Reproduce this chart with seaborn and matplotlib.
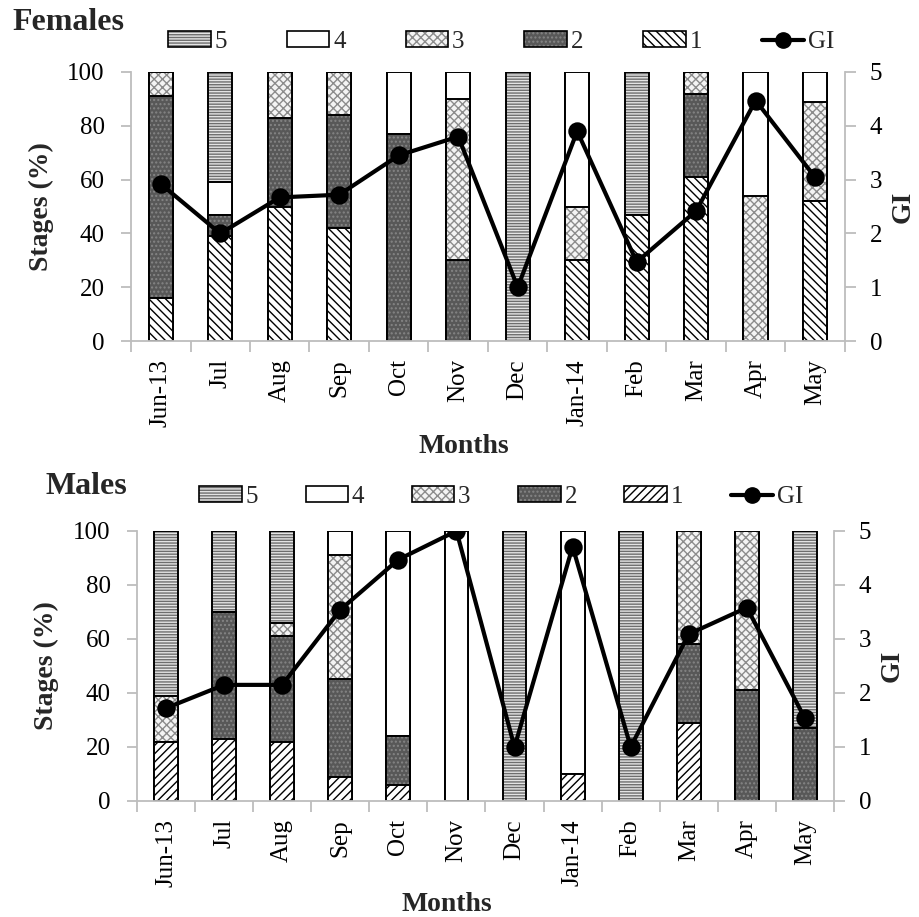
import matplotlib
matplotlib.use('Agg')
import matplotlib.pyplot as plt
from matplotlib.patches import Patch
from matplotlib.lines import Line2D
import numpy as np
import seaborn as sns

sns.set_theme(style='white')
plt.rcParams['font.family'] = ['Liberation Serif', 'DejaVu Serif']
plt.rcParams['hatch.linewidth'] = 1.0

months = ['Jun-13', 'Jul', 'Aug', 'Sep', 'Oct', 'Nov', 'Dec',
          'Jan-14', 'Feb', 'Mar', 'Apr', 'May']
stage_names = ['1', '2', '3', '4', '5']

# females, % of each maturity stage per month
f_s1 = [16, 39, 50, 42, 0, 0, 0, 30, 47, 61, 0, 52]
f_s2 = [75, 8, 33, 42, 77, 30, 0, 0, 0, 31, 0, 0]
f_s3 = [9, 0, 17, 16, 0, 60, 0, 20, 0, 8, 54, 37]
f_s4 = [0, 12, 0, 0, 23, 10, 0, 50, 0, 0, 46, 11]
f_s5 = [0, 41, 0, 0, 0, 0, 100, 0, 53, 0, 0, 0]
f_gi = [2.92, 2.0, 2.67, 2.72, 3.45, 3.8, 1.0, 3.9, 1.47, 2.42, 4.47, 3.04]

# males
m_s1 = [22, 23, 22, 9, 6, 0, 0, 10, 0, 29, 0, 0]
m_s2 = [0, 47, 39, 36, 18, 0, 0, 0, 0, 29, 41, 27]
m_s3 = [17, 0, 5, 46, 0, 0, 0, 0, 0, 42, 59, 0]
m_s4 = [0, 0, 0, 9, 76, 100, 0, 90, 0, 0, 0, 0]
m_s5 = [61, 30, 34, 0, 0, 0, 100, 0, 100, 0, 0, 73]
m_gi = [1.72, 2.15, 2.15, 3.54, 4.47, 5.0, 1.0, 4.71, 1.0, 3.09, 3.58, 1.53]

GRAY = '#bdbdbd'


def styles(s1_hatch):
    # face colour, hatch, hatch colour
    return {
        '1': ('white', s1_hatch, 'black'),
        '2': ('#585858', '....', '#858585'),
        '3': ('#f4f4f4', 'xxxx', '#8c8c8c'),
        '4': ('white', '', 'white'),
        '5': ('#e4e4e4', '------', '#6e6e6e'),
    }


def draw_panel(ax, stages, gi, s1_hatch, ylab_x, xlab_xy, gilab_x):
    st = styles(s1_hatch)
    cum = np.cumsum(np.asarray(stages, dtype=float), axis=0)
    # stacked bars: draw cumulative totals from the top stage down
    for i in range(len(stage_names) - 1, -1, -1):
        face, hatch, hcol = st[stage_names[i]]
        tops = cum[i]
        n0 = len(ax.patches)
        sns.barplot(x=months, y=tops, order=months, width=0.41, color=face,
                    saturation=1, hatch=hatch, edgecolor=hcol, linewidth=0,
                    errorbar=None, ax=ax)
        for p in ax.patches[n0:]:
            p.set_facecolor(face)
        sns.barplot(x=months, y=tops, order=months, width=0.41, fill=False,
                    edgecolor='black', linewidth=1.4, errorbar=None, ax=ax)
        for p in ax.patches[n0:]:
            if p.get_height() == 0:
                p.set_visible(False)

    ax.set_xlim(-0.5, len(months) - 0.5)
    ax.set_ylim(0, 100)
    ax.set_yticks(range(0, 101, 20))
    ax.set_xticks(range(len(months)))
    ax.set_xticklabels(months, rotation=90)
    ax.set_xticks(np.arange(-0.5, len(months)), minor=True)
    ax.tick_params(axis='x', which='major', length=0, pad=13, labelsize=18,
                   labelcolor='black')
    ax.tick_params(axis='x', which='minor', bottom=True, length=8,
                   color=GRAY, width=1.3)
    ax.tick_params(axis='y', left=True, length=7, color=GRAY, width=1.3,
                   pad=12, labelsize=18, labelcolor='black')
    for s in ['top', 'right']:
        ax.spines[s].set_visible(False)
    for s in ['left', 'bottom']:
        ax.spines[s].set_color(GRAY)
        ax.spines[s].set_linewidth(1.3)

    ax.set_ylabel('Stages (%)', fontsize=20, fontweight='bold')
    ax.yaxis.set_label_coords(ylab_x, 0.5)
    ax.yaxis.label.set_va('center')
    ax.set_xlabel('Months', fontsize=20, fontweight='bold')
    ax.xaxis.set_label_coords(*xlab_xy)
    ax.xaxis.label.set_va('center')

    ax2 = ax.twinx()
    sns.pointplot(x=months, y=gi, order=months, color='black', markers='o',
                  linestyles='-', errorbar=None, ax=ax2,
                  markersize=11, linewidth=3)
    ax2.set_xlim(-0.5, len(months) - 0.5)
    ax2.set_ylim(0, 5)
    ax2.set_yticks(range(0, 6))
    ax2.tick_params(axis='y', right=True, length=8, color=GRAY, width=1.3,
                    pad=10, labelsize=18, labelcolor='black')
    for s in ['top', 'left', 'bottom']:
        ax2.spines[s].set_visible(False)
    ax2.spines['right'].set_color(GRAY)
    ax2.spines['right'].set_linewidth(1.3)
    ax2.set_ylabel('GI', fontsize=20, fontweight='bold')
    ax2.yaxis.set_label_coords(gilab_x, 0.5)
    ax2.yaxis.label.set_va('center')
    ax2.grid(False)
    ax.grid(False)
    return ax2


def legend_handles(s1_hatch):
    st = styles(s1_hatch)
    hs = []
    for name in ['5', '4', '3', '2', '1']:
        face, hatch, hcol = st[name]
        hs.append((Patch(facecolor=face, hatch=hatch, edgecolor=hcol, lw=0),
                   Patch(fill=False, edgecolor='black', lw=1.2)))
    hs.append(Line2D([], [], color='black', lw=3, marker='o', markersize=11))
    return hs


fig = plt.figure(figsize=(9.2, 9.17), dpi=100)

ax_f = fig.add_axes([0.1424, 0.628, 0.776, 0.2935])
draw_panel(ax_f, [f_s1, f_s2, f_s3, f_s4, f_s5], f_gi, '\\\\\\\\',
           -0.125, (0.466, -0.39), 1.081)

ax_m = fig.add_axes([0.1489, 0.1265, 0.7576, 0.2945])
draw_panel(ax_m, [m_s1, m_s2, m_s3, m_s4, m_s5], m_gi, '////',
           -0.13, (0.445, -0.385), 1.083)

labels = ['5', '4', '3', '2', '1', 'GI']
fig.legend(legend_handles('\\\\\\\\'), labels, loc='center',
           bbox_to_anchor=(0.545, 0.954), ncol=6, frameon=False,
           fontsize=18, handlelength=1.7, handleheight=0.6,
           handletextpad=0.15, columnspacing=2.4)
fig.legend(legend_handles('////'), labels, loc='center',
           bbox_to_anchor=(0.545, 0.458), ncol=6, frameon=False,
           fontsize=18, handlelength=1.7, handleheight=0.6,
           handletextpad=0.15, columnspacing=1.9)

fig.text(0.013, 0.976, 'Females', fontsize=23, fontweight='bold', va='center')
fig.text(0.049, 0.469, 'Males', fontsize=23, fontweight='bold', va='center')

fig.savefig('out.png', dpi=100)
